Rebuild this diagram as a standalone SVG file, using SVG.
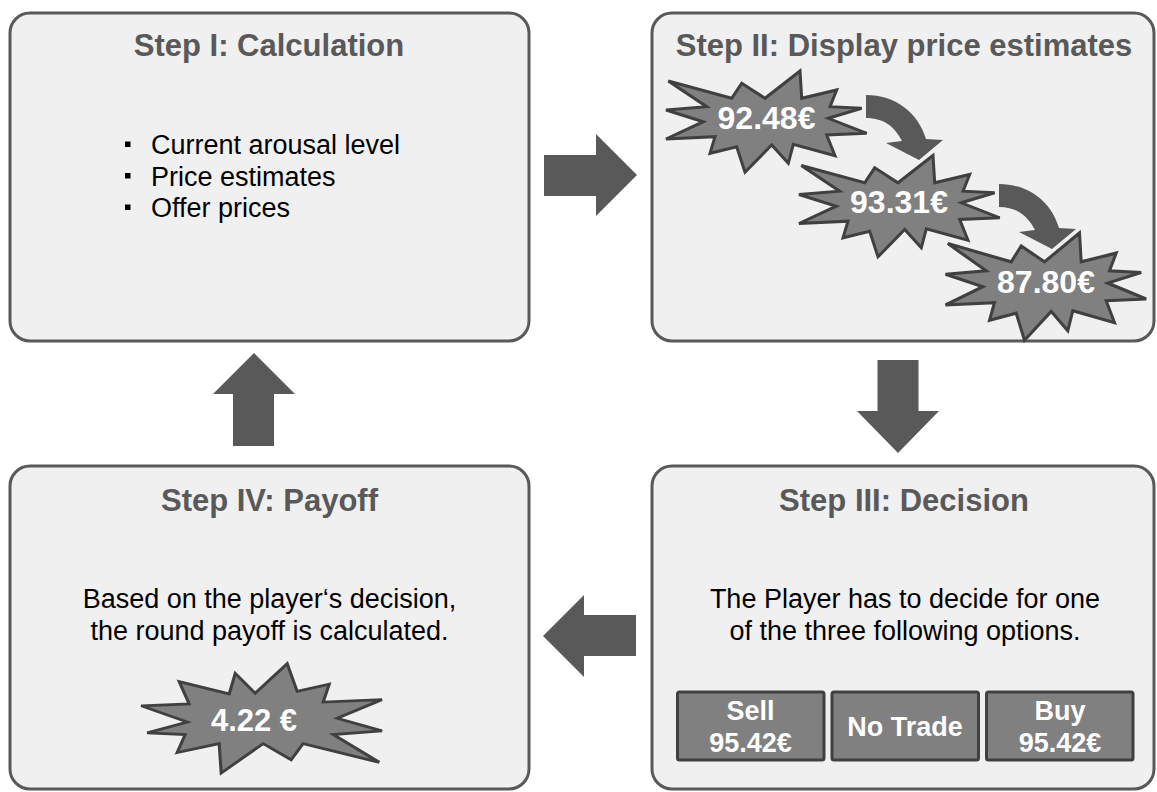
<svg xmlns="http://www.w3.org/2000/svg" xmlns:xlink="http://www.w3.org/1999/xlink" width="1157" height="792" viewBox="0 0 1157 792">
<style>
.box{fill:#f0f0f0;stroke:#595959;stroke-width:3}
.title{font-family:"Liberation Sans",Arial,sans-serif;font-weight:bold;font-size:31px;fill:#595959;text-anchor:middle}
.body{font-family:"Liberation Sans",Arial,sans-serif;font-size:27px;fill:#000}
.mid{text-anchor:middle}
.star{fill:#808080;stroke:#404040;stroke-width:3;stroke-linejoin:miter}
.stxt{font-family:"Liberation Sans",Arial,sans-serif;font-weight:bold;font-size:32px;fill:#fff;text-anchor:middle}
.btn{fill:#808080;stroke:#404040;stroke-width:3}
.btxt{font-family:"Liberation Sans",Arial,sans-serif;font-weight:bold;font-size:27px;fill:#fff;text-anchor:middle}
.arr{fill:#595959}
</style>
<defs>
<path id="starShape" d="M-97.7,-41 L-34.3,-23.7 L-24.3,-38.7 L-1,-23.7 L34,-51 L35.7,-23.7 L70.7,-32 L64,-15.3 L95.7,-13.7 L62.3,-3.7 L100.7,11.3 L60.7,13 L69,33.7 L27.3,22.3 L22.3,41.3 L5.7,23 L-21,50.3 L-29.3,24.7 L-56,31.3 L-51,14.7 L-100,17 L-62.7,-0.3 L-100,-12 L-59.3,-15.3 Z"/>
<path id="curveArrow" d="M866,95 C895,95 918,112 926,139 L943,140 L919,160 L886,143 L902,141 C895,127 884,118 866,118 Z"/>
</defs>

<g id="step1">
<rect class="box" x="10" y="13" width="519" height="328" rx="20" ry="20"/>
<text class="title" x="269" y="56">Step I: Calculation</text>
<rect x="125" y="141.5" width="5.5" height="5.5" fill="#000"/>
<rect x="125" y="173" width="5.5" height="5.5" fill="#000"/>
<rect x="125" y="204.5" width="5.5" height="5.5" fill="#000"/>
<text class="body" x="151" y="154">Current arousal level</text>
<text class="body" x="151" y="185.5">Price estimates</text>
<text class="body" x="151" y="217">Offer prices</text>
</g>

<g id="step2">
<rect class="box" x="652" y="13" width="502" height="328" rx="20" ry="20"/>
<text class="title" x="904" y="56">Step II: Display price estimates</text>
<use xlink:href="#curveArrow" class="arr"/>
<use xlink:href="#curveArrow" class="arr" transform="translate(133,89)"/>
<g transform="translate(766,122)"><use xlink:href="#starShape" class="star"/></g>
<text class="stxt" x="766.5" y="129">92.48€</text>
<g transform="translate(899,206.5)"><use xlink:href="#starShape" class="star"/></g>
<text class="stxt" x="899" y="213">93.31€</text>
<g transform="translate(1045.5,287) scale(1,1.06)"><use xlink:href="#starShape" class="star"/></g>
<text class="stxt" x="1046" y="293">87.80€</text>
</g>

<g id="step3">
<rect class="box" x="652" y="466" width="502" height="323" rx="20" ry="20"/>
<text class="title" x="904" y="511">Step III: Decision</text>
<text class="body mid" x="905" y="608">The Player has to decide for one</text>
<text class="body mid" x="905" y="640">of the three following options.</text>
<g id="btnSell">
<rect class="btn" x="677.5" y="692" width="146.5" height="68" rx="2"/>
<text class="btxt" x="750.5" y="720">Sell</text>
<text class="btxt" x="750.5" y="752">95.42€</text>
</g>
<g id="btnNoTrade">
<rect class="btn" x="832" y="692" width="146.5" height="68" rx="2"/>
<text class="btxt" x="905" y="736">No Trade</text>
</g>
<g id="btnBuy">
<rect class="btn" x="986.5" y="692" width="146.5" height="68" rx="2"/>
<text class="btxt" x="1060" y="720">Buy</text>
<text class="btxt" x="1060" y="752">95.42€</text>
</g>
</g>

<g id="step4">
<rect class="box" x="10" y="466" width="519" height="323" rx="20" ry="20"/>
<text class="title" x="269.5" y="511">Step IV: Payoff</text>
<text class="body mid" x="269.5" y="608">Based on the player‘s decision,</text>
<text class="body mid" x="269.5" y="640">the round payoff is calculated.</text>
<g transform="translate(262,718) rotate(180) scale(1.2,1.08)"><use xlink:href="#starShape" class="star" style="stroke-width:2.6"/></g>
<text class="stxt" x="254" y="731" style="font-size:31px">4.22 €</text>
</g>

<g id="connectors">
<polygon class="arr" points="544,155 596,155 596,134 637,175 596,216 596,196 544,196"/>
<polygon class="arr" points="877.5,360 918.5,360 918.5,411 939,411 898,453 857,411 877.5,411"/>
<polygon class="arr" points="636,615 584,615 584,595 543,636 584,677 584,656 636,656"/>
<polygon class="arr" points="254,353 295,394 274,394 274,446 233,446 233,394 213,394"/>
</g>
</svg>
